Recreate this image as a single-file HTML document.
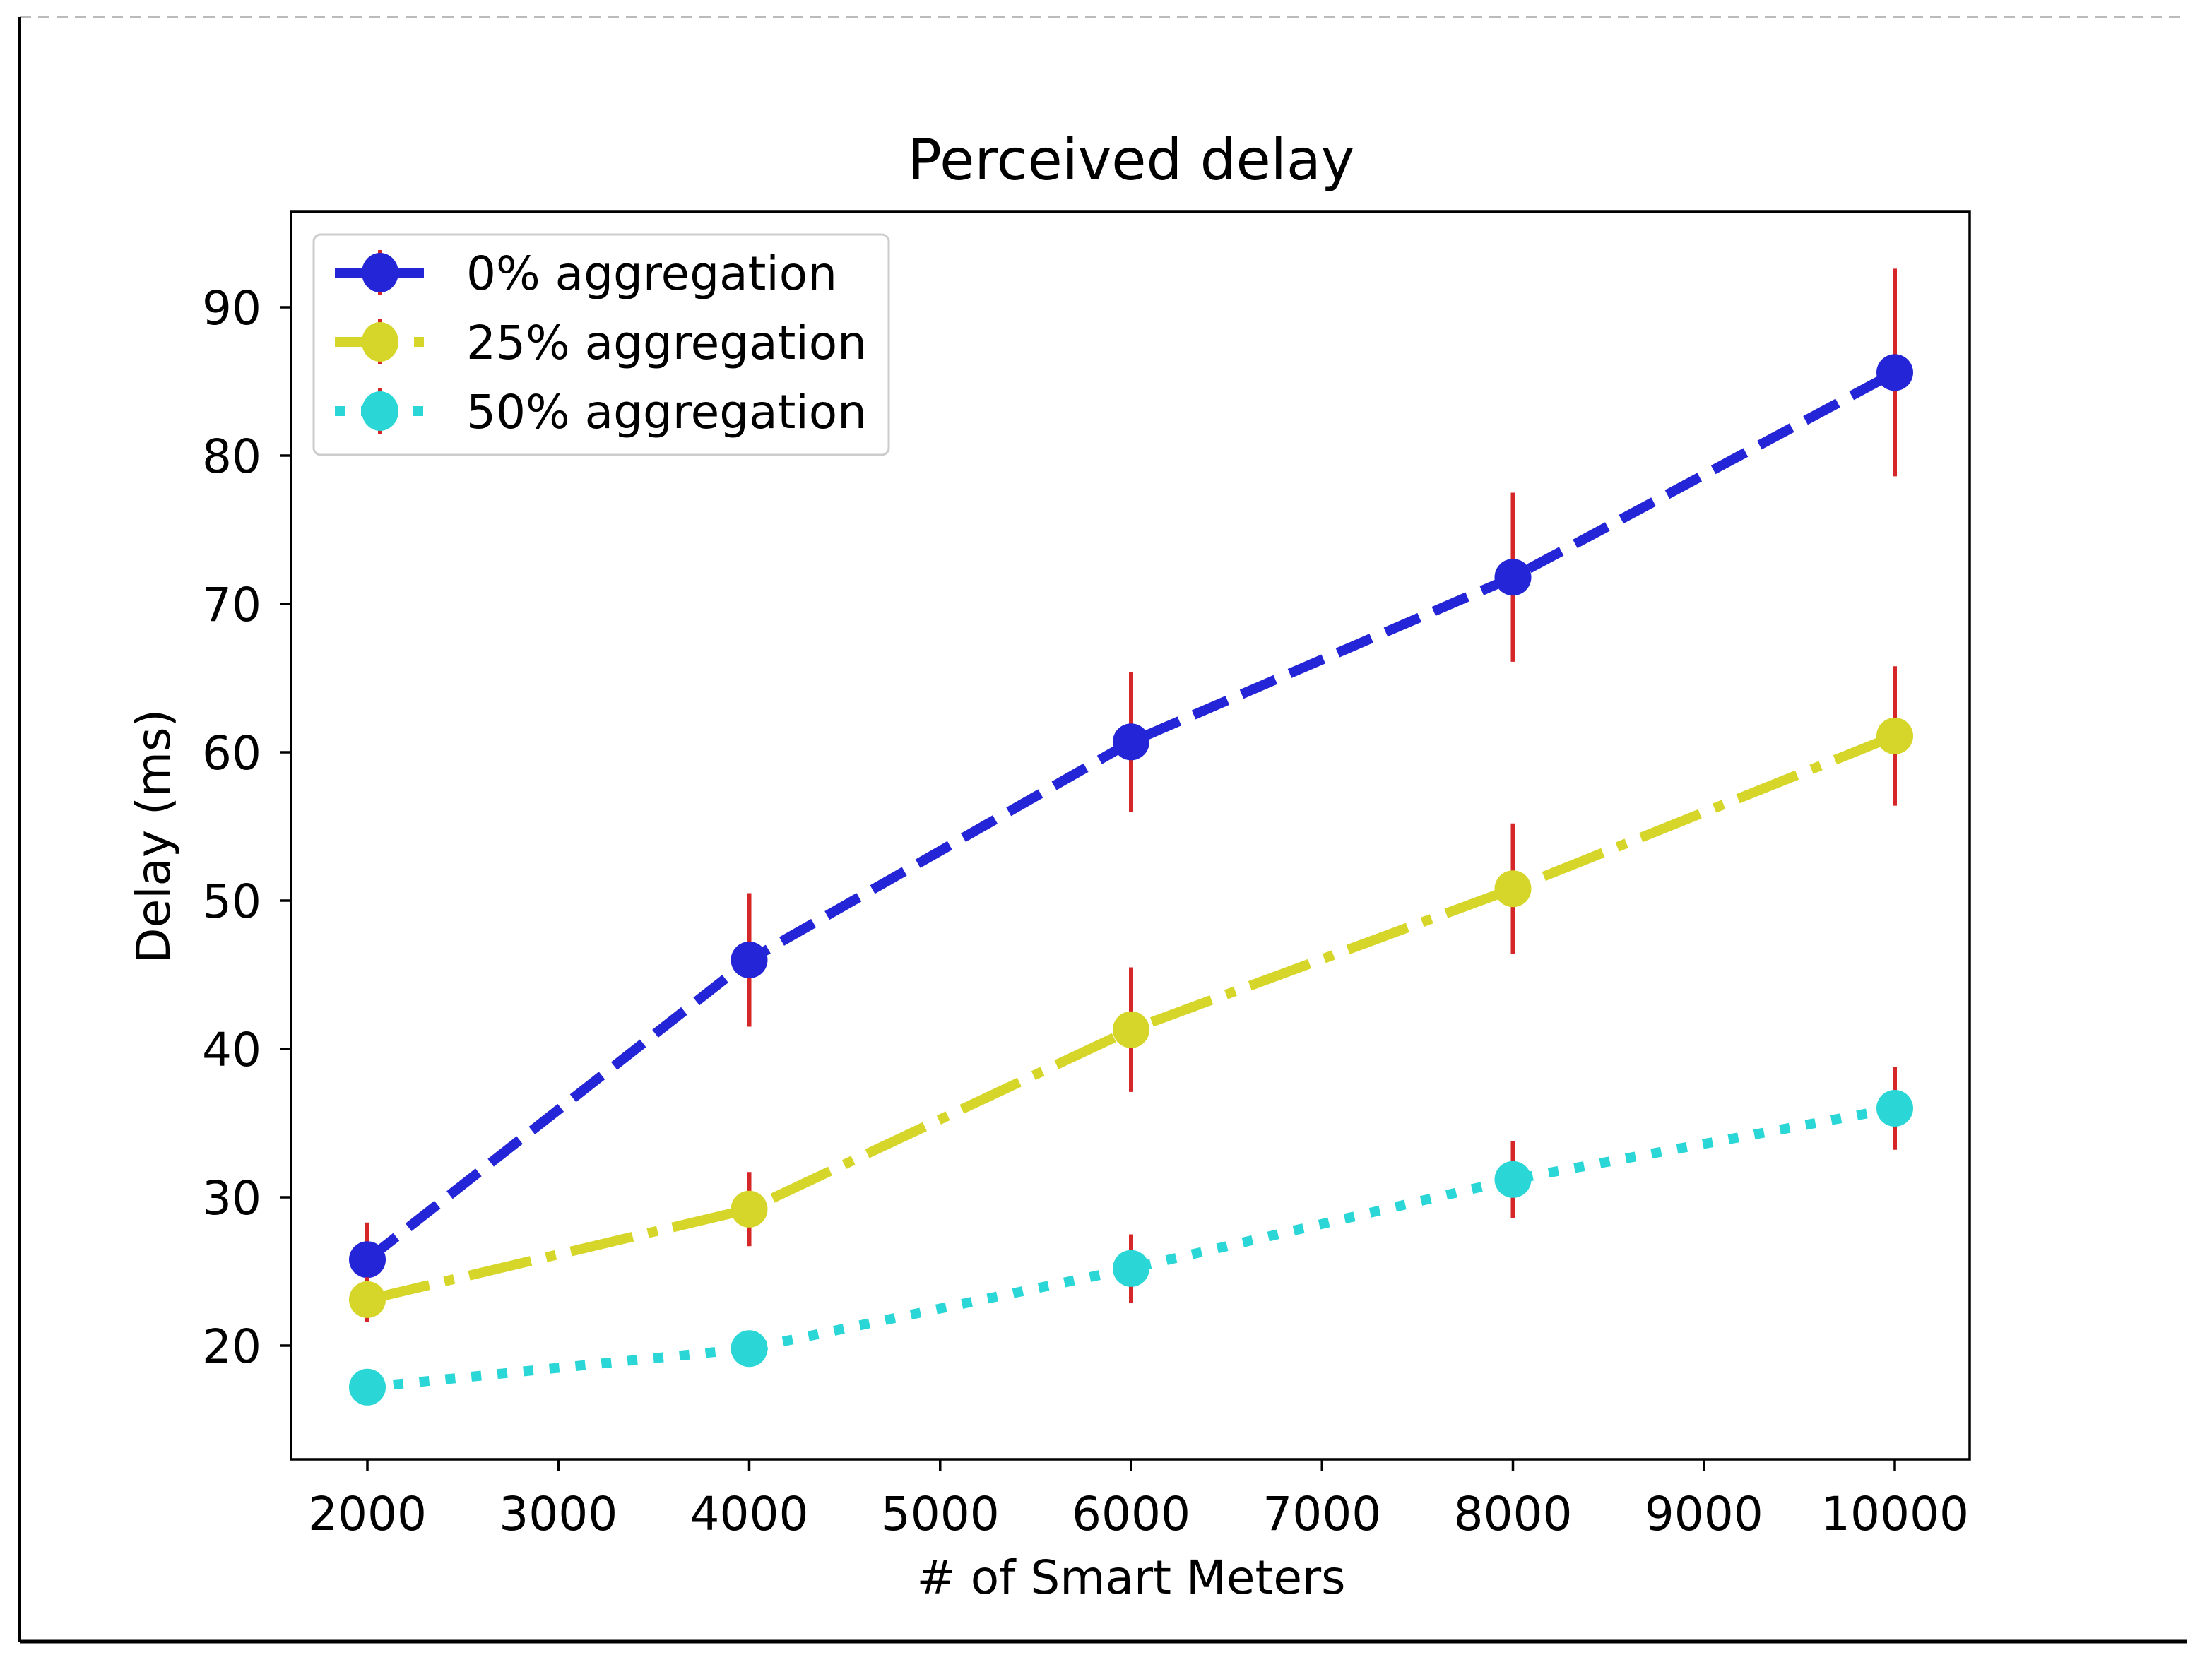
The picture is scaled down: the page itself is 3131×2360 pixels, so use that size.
<!DOCTYPE html>
<html><head><meta charset="utf-8"><style>
html,body{margin:0;padding:0;background:#fff;}
svg{display:block;font-family:"DejaVu Sans","Liberation Sans",sans-serif;}
</style></head><body>
<svg id="chart" width="3131" height="2360" viewBox="0 0 3131 2360" xmlns="http://www.w3.org/2000/svg">
<rect x="0" y="0" width="3131" height="2360" fill="#fff"/>
<line x1="28" y1="24" x2="3096" y2="24" stroke="#bbb" stroke-width="2" stroke-dasharray="16,10"/>
<line x1="28" y1="24" x2="28" y2="2324" stroke="#000" stroke-width="4"/>
<line x1="28" y1="2324" x2="3096" y2="2324" stroke="#000" stroke-width="5"/>
<text x="1601" y="254" font-size="80" text-anchor="middle" fill="#000">Perceived delay</text>
<g id="plot"></g>
<rect x="412" y="300" width="2376" height="1766" fill="none" stroke="#000" stroke-width="3.5"/>
<text x="1601" y="2256" font-size="66" text-anchor="middle" fill="#000"># of Smart Meters</text>
<text x="0" y="0" font-size="66" text-anchor="middle" fill="#000" transform="translate(240,1184) rotate(-90)">Delay (ms)</text>
<g>
<rect x="444" y="332" width="814" height="312" rx="10" fill="#fff" fill-opacity="0.9" stroke="#ccc" stroke-width="3"/>
<g id="legend-entries"></g>
</g>
</svg>
<script>
const categories = [2000, 4000, 6000, 8000, 10000];
const xTicks = [2000, 3000, 4000, 5000, 6000, 7000, 8000, 9000, 10000];
const yTicks = [20, 30, 40, 50, 60, 70, 80, 90];
const seriesNames = ["0% aggregation", "25% aggregation", "50% aggregation"];
const agg0 = [25.8, 46.0, 60.7, 71.8, 85.6];
const agg0Err = [2.5, 4.5, 4.7, 5.7, 7.0];
const agg25 = [23.1, 29.2, 41.3, 50.8, 61.1];
const agg25Err = [1.5, 2.5, 4.2, 4.4, 4.7];
const agg50 = [17.2, 19.8, 25.2, 31.2, 36.0];
const agg50Err = [0.5, 0.5, 2.3, 2.6, 2.8];

const NS = "http://www.w3.org/2000/svg";
function xs(v){ return 520 + (v - 2000) * (2682 - 520) / 8000; }
function ys(v){ return 1905 - (v - 20) * 21.0; }
function mk(tag, attrs, parent){
  const e = document.createElementNS(NS, tag);
  for (const k in attrs) e.setAttribute(k, attrs[k]);
  parent.appendChild(e); return e;
}
const svg = document.getElementById('chart');
const plot = document.getElementById('plot');

xTicks.forEach(t => {
  const l = mk('line', {x1: xs(t), x2: xs(t), y1: 2066, y2: 2082, stroke: '#000', 'stroke-width': 3.5}, svg);
  
  
  const tx = mk('text', {x: xs(t), y: 2166, 'font-size': 66, 'text-anchor': 'middle', fill: '#000'}, svg);
  tx.textContent = t;
  
  
});
yTicks.forEach(t => {
  const l = mk('line', {x1: 396, x2: 412, y1: ys(t), y2: ys(t), stroke: '#000', 'stroke-width': 3.5}, svg);
  
  
  const tx = mk('text', {x: 370, y: ys(t) + 24, 'font-size': 66, 'text-anchor': 'end', fill: '#000'}, svg);
  tx.textContent = t;
  
  
});

const series = [
  {vals: agg0, err: agg0Err, color: '#2525d8', dash: '52,22', key: 'agg-0'},
  {vals: agg25, err: agg25Err, color: '#d6d62a', dash: '90,22,14,22', key: 'agg-25'},
  {vals: agg50, err: agg50Err, color: '#2ad6d6', dash: '14,23', key: 'agg-50'}
];
series.forEach((s, si) => {
  const g = mk('g', {}, plot);
  
  
  const pts = categories.map((c, i) => xs(c) + ',' + ys(s.vals[i])).join(' ');
  const pl = mk('polyline', {points: pts, fill: 'none', stroke: s.color, 'stroke-width': 14, 'stroke-dasharray': s.dash}, g);
  
  
  categories.forEach((c, i) => {
    const eb = mk('line', {x1: xs(c), x2: xs(c), y1: ys(s.vals[i] - s.err[i]), y2: ys(s.vals[i] + s.err[i]), stroke: '#d62728', 'stroke-width': 6}, g);
    
    
  });
  categories.forEach((c, i) => {
    const p = mk('ellipse', {cx: xs(c), cy: ys(s.vals[i]), rx: 26, ry: 26, fill: s.color}, g);
    
    
  });
  const le = document.getElementById('legend-entries');
  const ly = 386 + si * 98;
  const lg = mk('g', {}, le);
  
  
  mk('line', {x1: 474, x2: 600, y1: ly, y2: ly, stroke: s.color, 'stroke-width': 14, 'stroke-dasharray': si === 0 ? '52,22' : (si === 1 ? '90,22' : '14,23')}, lg);
  mk('line', {x1: 538, x2: 538, y1: ly - 32, y2: ly + 32, stroke: '#d62728', 'stroke-width': 6}, lg);
  mk('ellipse', {cx: 538, cy: ly, rx: 26, ry: 28, fill: s.color}, lg);
  const lt = mk('text', {x: 660, y: ly + 24, 'font-size': 66, fill: '#000'}, lg);
  lt.textContent = seriesNames[si];
});
</script>
</body></html>
